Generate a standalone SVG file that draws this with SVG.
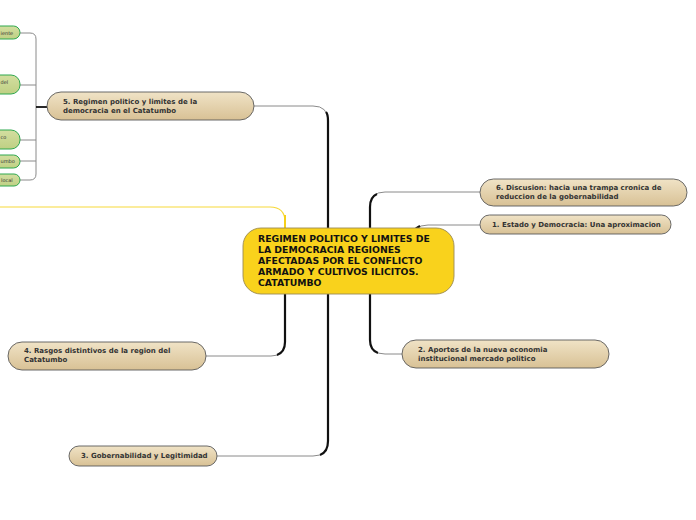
<svg xmlns="http://www.w3.org/2000/svg" width="696" height="520" viewBox="0 0 696 520">
<defs>
<linearGradient id="beige" x1="0" y1="0" x2="0" y2="1">
<stop offset="0" stop-color="#F0E3C6"/>
<stop offset="1" stop-color="#D8C195"/>
</linearGradient>
<linearGradient id="green" x1="0" y1="0" x2="0" y2="1">
<stop offset="0" stop-color="#D3DEA0"/>
<stop offset="1" stop-color="#BFD084"/>
</linearGradient>
</defs>
<style>
.topic{fill:url(#beige);stroke:#5a5a5a;stroke-width:0.9}
.sub{fill:url(#green);stroke:#2FA84F;stroke-width:1}
.t{font-family:"DejaVu Sans",Verdana,sans-serif;font-weight:bold;font-size:7px;fill:#333}
.ts{font-family:"DejaVu Sans",Verdana,sans-serif;font-size:5px;fill:#333}
.tc{font-family:"DejaVu Sans",Verdana,sans-serif;font-weight:bold;font-size:9.3px;fill:#111}
.thin{fill:none;stroke:#8a8a8a;stroke-width:1}
.thick{fill:none;stroke:#111;stroke-width:2.2}
.yl{fill:none;stroke:#F7D93A;stroke-width:1.2}
.ylt{fill:none;stroke:#F5CF1A;stroke-width:2}
</style>
<rect width="696" height="520" fill="#fff"/>
<g id="connectors">
<path class="thin" d="M254 106 H313 Q328 106 328 121"/>
<path class="thick" d="M326 112 Q328 114 328 121 V229"/>
<path class="yl" d="M0 207 H270 Q285 207 285 222 V229"/>
<path class="ylt" d="M285 215 V229"/>
<path class="thin" d="M206 356 H271 Q285 356 285 342"/>
<path class="thick" d="M285 294 V342 Q285 352 277 355"/>
<path class="thin" d="M217 456 H313 Q328 456 328 441"/>
<path class="thick" d="M328 294 V441 Q328 452 320 455"/>
<path class="thin" d="M480 192 H385 Q370 192 370 207"/>
<path class="thick" d="M370 229 V207 Q370 197 377 194"/>
<path class="thin" d="M480 225 H428 Q420 225 416 229"/>
<path class="thick" d="M413 231 Q416 228 420 226"/>
<path class="thin" d="M402 354 H385 Q370 354 370 340"/>
<path class="thick" d="M370 294 V340 Q370 350 378 353"/>
<path class="thin" d="M20 33 H30 Q36 33 36 39 V174 Q36 180 30 180 H20"/>
<path class="thin" d="M20 85 H36 M20 140 H36 M20 161 H36"/>
<path class="thick" d="M36 107 H47" style="stroke-width:1.8"/>
</g>
<g id="n-a"><rect class="sub" x="-20" y="26" width="40" height="13" rx="6.5"/><text class="ts" x="0.5" y="35">iente</text></g>
<g id="n-b"><rect class="sub" x="-20" y="75" width="40" height="19" rx="9"/><text class="ts" x="0.5" y="84">del</text></g>
<g id="n-c"><rect class="sub" x="-20" y="130" width="40" height="19" rx="9"/><text class="ts" x="0.5" y="139">co</text></g>
<g id="n-d"><rect class="sub" x="-20" y="155" width="40" height="13" rx="6.5"/><text class="ts" x="0.5" y="163">umbo</text></g>
<g id="n-e"><rect class="sub" x="-20" y="174" width="40" height="12" rx="6"/><text class="ts" x="1" y="182">local</text></g>
<g id="n5"><rect class="topic" x="47" y="92" width="207" height="28" rx="14"/>
<text class="t" x="63" y="104">5. Regimen politico y limites de la</text>
<text class="t" x="63" y="113">democracia en el Catatumbo</text></g>
<g id="n6"><rect class="topic" x="480" y="179" width="207" height="27" rx="13.5"/>
<text class="t" x="496" y="190">6. Discusion: hacia una trampa cronica de</text>
<text class="t" x="496" y="199">reduccion de la gobernabilidad</text></g>
<g id="n1"><rect class="topic" x="480" y="215" width="191" height="19" rx="9.5"/>
<text class="t" x="492" y="227">1. Estado y Democracia: Una aproximacion</text></g>
<g id="n2"><rect class="topic" x="402" y="340" width="207" height="28" rx="14"/>
<text class="t" x="418" y="352">2. Aportes de la nueva economia</text>
<text class="t" x="418" y="361">institucional mercado politico</text></g>
<g id="n4"><rect class="topic" x="8" y="342" width="198" height="28" rx="14"/>
<text class="t" x="24" y="353">4. Rasgos distintivos de la region del</text>
<text class="t" x="24" y="362">Catatumbo</text></g>
<g id="n3"><rect class="topic" x="69" y="446" width="148" height="20" rx="10"/>
<text class="t" x="81" y="458">3. Gobernabilidad y Legitimidad</text></g>
<g id="center"><rect x="243" y="228" width="211" height="66" rx="18" fill="#F9D21C" stroke="#9a8a55" stroke-width="0.9"/>
<text class="tc" x="258" y="242">REGIMEN POLITICO Y LIMITES DE</text>
<text class="tc" x="258" y="253">LA DEMOCRACIA REGIONES</text>
<text class="tc" x="258" y="264">AFECTADAS POR EL CONFLICTO</text>
<text class="tc" x="258" y="275">ARMADO Y CULTIVOS ILICITOS.</text>
<text class="tc" x="258" y="286">CATATUMBO</text></g>
</svg>
